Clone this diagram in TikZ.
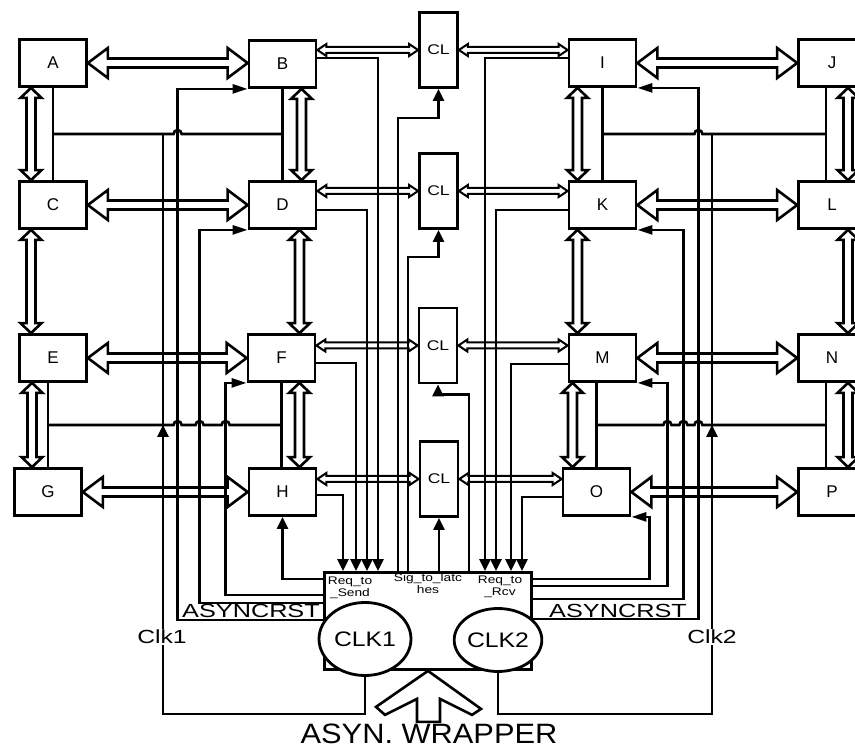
\documentclass[tikz,border=0pt]{standalone}
\usepackage{fontspec}
\setmainfont{Liberation Sans}
\usetikzlibrary{arrows.meta,calc,shapes.geometric}

\newcommand{\wider}[2][1.25]{\scalebox{#1}[1]{#2}}
% hollow double-headed bus: [style]{from}{to}{shaft}{head}{head length}
\newcommand{\hbus}[6][bus]{%
  \draw[#1] let \p1=(#2), \p2=(#3) in
    (\x1,\y1) -- ({\x1+#6},{\y1+#5}) -- ({\x1+#6},{\y1+#4}) -- ({\x2-#6},{\y1+#4})
    -- ({\x2-#6},{\y1+#5}) -- (\x2,\y1) -- ({\x2-#6},{\y1-#5}) -- ({\x2-#6},{\y1-#4})
    -- ({\x1+#6},{\y1-#4}) -- ({\x1+#6},{\y1-#5}) -- cycle;}
\newcommand{\vbus}[6][bus]{%
  \draw[#1] let \p1=(#2), \p2=(#3) in
    (\x1,\y1) -- ({\x1+#5},{\y1-#6}) -- ({\x1+#4},{\y1-#6}) -- ({\x1+#4},{\y2+#6})
    -- ({\x1+#5},{\y2+#6}) -- (\x1,\y2) -- ({\x1-#5},{\y2+#6}) -- ({\x1-#4},{\y2+#6})
    -- ({\x1-#4},{\y1-#6}) -- ({\x1-#5},{\y1-#6}) -- cycle;}

\tikzset{
  blk/.style={draw, line width=2.8pt, minimum width=67pt, minimum height=47pt,
    inner sep=0pt, font=\fontsize{17}{17}\selectfont},
  clbox/.style={draw, line width=2.8pt, minimum width=38pt, minimum height=75pt,
    inner sep=0pt, font=\fontsize{14}{14}\selectfont},
  clkbox/.style={draw, ellipse, line width=2.8pt, fill=white, inner sep=0pt,
    font=\fontsize{21}{21}\selectfont},
  wire/.style={line width=2.6pt},
  bus/.style={line width=2.6pt, line join=miter},
  thinbus/.style={line width=2pt, line join=miter},
  sig/.style={wire, -{Triangle[length=12pt,width=11pt]}},
  cornersig/.style={wire, -{Triangle[length=15pt,width=9pt]}},
  tag/.style={font=\fontsize{11}{12}\selectfont, align=center, inner sep=0pt},
  sigtag/.style={font=\fontsize{19}{19}\selectfont, inner sep=1pt}
}

\begin{document}
\begin{tikzpicture}[x=1pt,y=-1pt]
  \useasboundingbox (0,0) rectangle (855,751);
  \clip (0,0) rectangle (855,751);
  % processing elements
  \node[blk] (A) at (53,63) {A};
  \node[blk] (B) at (282.5,64) {B};
  \node[blk] (C) at (53,205) {C};
  \node[blk] (D) at (282.5,205) {D};
  \node[blk] (E) at (53,358) {E};
  \node[blk] (F) at (281.5,358) {F};
  \node[blk] (G) at (48,492) {G};
  \node[blk] (H) at (282.5,492) {H};
  \node[blk] (I) at (602.5,63) {I};
  \node[blk] (K) at (602.5,205) {K};
  \node[blk] (M) at (602.5,358) {M};
  \node[blk] (O) at (596.5,492) {O};
  \node[blk] (J) at (832,63) {J};
  \node[blk] (L) at (832,205) {L};
  \node[blk] (N) at (832,358) {N};
  \node[blk] (P) at (832,492) {P};
  % latches between the two clock domains
  \node[clbox] (CL1) at (438.5,50) {\wider{CL}};
  \node[clbox] (CL2) at (438.5,191) {\wider{CL}};
  \node[clbox] (CL3) at (438,345.5) {\wider{CL}};
  \node[clbox] (CL4) at (439,479) {\wider{CL}};
  % wrapper
  \node[draw, line width=2.8pt, minimum width=207pt, minimum height=97pt, inner sep=0pt] (W) at (428,621) {};

  % wide data buses
  \hbus{A.east}{B.west}{4.5pt}{15pt}{20pt}
  \hbus{C.east}{D.west}{4.5pt}{15pt}{20pt}
  \hbus{E.east}{F.west}{4.5pt}{15pt}{20pt}
  \hbus{G.east}{H.west}{4.5pt}{15pt}{20pt}
  \hbus{I.east}{J.west}{4.5pt}{15pt}{20pt}
  \hbus{K.east}{L.west}{4.5pt}{15pt}{20pt}
  \hbus{M.east}{N.west}{4.5pt}{15pt}{20pt}
  \hbus{O.east}{P.west}{4.5pt}{15pt}{20pt}
  \vbus{[xshift=-22pt]A.south}{C.north}{4.5pt}{10.5pt}{10pt}
  \vbus{[xshift=-22pt]C.south}{E.north}{4.5pt}{10.5pt}{10pt}
  \vbus{[xshift=-21pt]E.south}{G.north}{4.5pt}{10.5pt}{10pt}
  \vbus{[xshift=19pt]B.south}{D.north}{4.5pt}{10.5pt}{10pt}
  \vbus{[xshift=17pt]D.south}{F.north}{4.5pt}{10.5pt}{10pt}
  \vbus{[xshift=18pt]F.south}{H.north}{4.5pt}{10.5pt}{10pt}
  \vbus{[xshift=-25pt]I.south}{K.north}{4.5pt}{10.5pt}{10pt}
  \vbus{[xshift=-25pt]K.south}{M.north}{4.5pt}{10.5pt}{10pt}
  \vbus{[xshift=-30pt]M.south}{O.north}{4.5pt}{10.5pt}{10pt}
  \vbus{[xshift=16pt]J.south}{L.north}{4.5pt}{10.5pt}{10pt}
  \vbus{[xshift=16pt]L.south}{N.north}{4.5pt}{10.5pt}{10pt}
  \vbus{[xshift=16pt]N.south}{P.north}{4.5pt}{10.5pt}{10pt}
  % narrow buses through the latches
  \hbus[thinbus]{B.east |- CL1.west}{CL1.west}{3pt}{6pt}{9pt}
  \hbus[thinbus]{D.east |- CL2.west}{CL2.west}{3pt}{6pt}{9pt}
  \hbus[thinbus]{F.east |- CL3.west}{CL3.west}{3pt}{6pt}{9pt}
  \hbus[thinbus]{H.east |- CL4.west}{CL4.west}{3pt}{6pt}{9pt}
  \hbus[thinbus]{CL1.east}{I.west |- CL1.east}{3pt}{6pt}{9pt}
  \hbus[thinbus]{CL2.east}{K.west |- CL2.east}{3pt}{6pt}{9pt}
  \hbus[thinbus]{CL3.east}{M.west |- CL3.east}{3pt}{6pt}{9pt}
  \hbus[thinbus]{CL4.east}{O.west |- CL4.east}{3pt}{6pt}{9pt}

  % clock trees
  \coordinate (jl) at ($(J.south)+(-6,0)$);
  \coordinate (np) at ($(N.south)+(-6,0)$);
  \coordinate (busTL) at ($(A.south)!0.5!(C.north)$);
  \coordinate (busBL) at ($(G.north)!0.5!(G.north |- E.south)$);
  \coordinate (busTR) at ($(I.south)!0.5!(K.north)$);
  \coordinate (busBR) at ($(O.north)!0.5!(O.north |- M.south)$);
  \coordinate (fbB) at ($(B.south west)+(-70,0)$);
  \coordinate (fbD) at ($(D.south west)+(-48,0)$);
  \coordinate (fbF) at ($(F.south west)+(-21,0)$);
  \coordinate (fbO) at ($(O.south east)+(18,0)$);
  \coordinate (fbM) at ($(M.south east)+(30,0)$);
  \coordinate (fbK) at ($(K.south east)+(46,0)$);
  \coordinate (fbI) at ($(I.south east)+(61,0)$);
  \draw[wire] (A.south) -- (C.north);
  \draw[wire] (B.south) -- (D.north);
  \draw[wire] (G.north) -- (G.north |- E.south);
  \draw[wire] (F.south) -- (F.south |- H.north);
  \draw[wire] (I.south) -- (K.north);
  \draw[wire] (jl) -- (jl |- L.north);
  \draw[wire] (O.north) -- (O.north |- M.south);
  \draw[wire] (np) -- (np |- P.north);
  \draw[wire] (busTL) -- ($(busTL -| fbB)+(-4,0)$) arc[start angle=180,end angle=0,radius=4pt]
    -- (busTL -| B.south);
  \draw[wire] (busBL) -- ($(busBL -| fbB)+(-4,0)$) arc[start angle=180,end angle=0,radius=4pt]
    -- ($(busBL -| fbD)+(-4,0)$) arc[start angle=180,end angle=0,radius=4pt]
    -- ($(busBL -| fbF)+(-4,0)$) arc[start angle=180,end angle=0,radius=4pt]
    -- (busBL -| F.south);
  \draw[wire] (busTR) -- ($(busTR -| fbI)+(-4,0)$) arc[start angle=180,end angle=0,radius=4pt]
    -- (busTR -| jl);
  \draw[wire] (busBR) -- ($(busBR -| fbM)+(-4,0)$) arc[start angle=180,end angle=0,radius=4pt]
    -- ($(busBR -| fbK)+(-4,0)$) arc[start angle=180,end angle=0,radius=4pt]
    -- ($(busBR -| fbI)+(-4,0)$) arc[start angle=180,end angle=0,radius=4pt]
    -- (busBR -| np);

  % requests into the wrapper
  \draw[sig] ([yshift=6pt]B.east) -| ($(W.north)+(-50,0)$);
  \draw[sig] ([yshift=-5pt]D.east) -| ($(W.north)+(-61,0)$);
  \draw[sig] ([yshift=-5pt]F.east) -| ($(W.north)+(-72,0)$);
  \draw[sig] ([yshift=-3pt]H.east) -| ($(W.north)+(-85,0)$);
  \draw[sig] ([yshift=5pt]I.west) -| ($(W.north)+(57,0)$);
  \draw[sig] ([yshift=-5pt]K.west) -| ($(W.north)+(68,0)$);
  \draw[sig] ([yshift=-6pt]M.west) -| ($(W.north)+(83,0)$);
  \draw[sig] ([yshift=-5pt]O.west) -| ($(W.north)+(94,0)$);
  % latch enables
  \draw[sig] ($(W.north)+(-30,0)$) |- ($(CL1.south)+(0,29)$) -- (CL1.south);
  \draw[sig] ($(W.north)+(-20,0)$) |- ($(CL2.south)+(0,27)$) -- (CL2.south);
  \draw[sig] ($(W.north)+(41,0)$) |- ($(CL3.south)+(0,10)$) -- (CL3.south);
  \draw[sig] (CL4.south |- W.north) -- (CL4.south);
  % resets back to the elements
  \draw[sig] ($(W.north west)+(0,8)$) -| (H.south);
  \draw[cornersig] ($(W.north west)+(0,24)$) -| (fbF) -- (F.south west);
  \draw[cornersig] ($(W.north west)+(0,32)$) -| (fbD) -- (D.south west);
  \draw[cornersig] ($(W.north west)+(0,49)$) -| (fbB) -- (B.south west);
  \draw[cornersig] ($(W.north east)+(0,8)$) -| (fbO) -- (O.south east);
  \draw[cornersig] ($(W.north east)+(0,15)$) -| (fbM) -- (M.south east);
  \draw[cornersig] ($(W.north east)+(0,28)$) -| (fbK) -- (K.south east);
  \draw[cornersig] ($(W.north east)+(0,48)$) -| (fbI) -- (I.south east);

  % local clocks
  \node[clkbox, minimum width=92pt, minimum height=73pt] (CK1) at (365,639) {\wider[1.18]{CLK1}};
  \node[clkbox, minimum width=85pt, minimum height=63pt] (CK2) at (498,640) {\wider[1.18]{CLK2}};
  \coordinate (ck1dn) at (163,714);
  \coordinate (ck2dn) at (712,714);
  \draw[wire] (CK1.south) |- (ck1dn) -- (ck1dn |- busTL);
  \draw[sig] (ck1dn) -- (ck1dn |- busBL);
  \draw[wire] (CK2.south) |- (ck2dn) -- (ck2dn |- busTR);
  \draw[sig] (ck2dn) -- (ck2dn |- busBR);
  \node[sigtag, fill=white] (clk1) at (162,637) {\wider[1.3]{Clk1}};
  \node[sigtag, fill=white] (clk2) at (712,637) {\wider[1.3]{Clk2}};
  \node[sigtag] (rstL) at (251,611) {\wider[1.33]{ASYNCRST}};
  \node[sigtag] (rstR) at (618,611) {\wider[1.33]{ASYNCRST}};
  \node[tag] (rqs) at (350,588) {\wider{Req\_to}\\\wider{\_Send}};
  \node[tag] (sgl) at (428,584) {\wider{Sig\_to\_latc}\\\wider{hes}};
  \node[tag] (rqr) at (500,587) {\wider{Req\_to}\\\wider{\_Rcv}};

  % wrapper input
  \begin{scope}[shift={(W.south)}]
    \draw[bus, fill=white] (0,0) -- (53,38) -- (44,44) -- (12,28) -- (12,51) -- (-11,51)
      -- (-11,28) -- (-43,44) -- (-52,36) -- cycle;
  \end{scope}
  \node[font=\fontsize{28}{28}\selectfont, inner sep=0pt] (wlab) at (429,734) {\wider[1.1]{ASYN. WRAPPER}};
\end{tikzpicture}
\end{document}
